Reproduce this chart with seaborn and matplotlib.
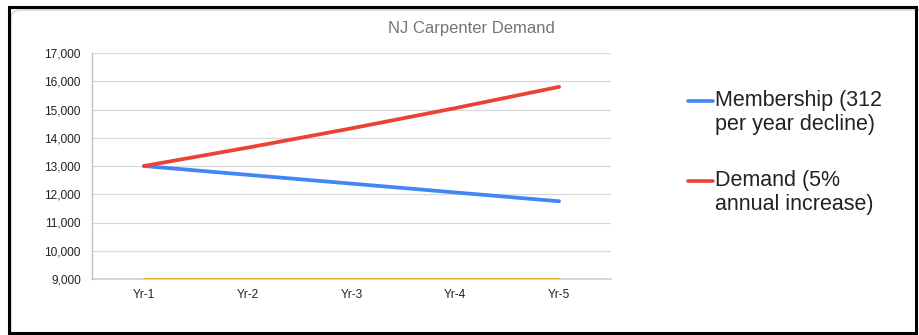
import pandas as pd
import matplotlib
matplotlib.use("Agg")
import matplotlib.pyplot as plt
from matplotlib.patches import FancyBboxPatch, Rectangle
from matplotlib.ticker import FuncFormatter
import seaborn as sns

years = ["Yr-1", "Yr-2", "Yr-3", "Yr-4", "Yr-5"]
membership = [13000, 12688, 12376, 12064, 11752]
demand = [13000, 13650, 14333, 15049, 15802]
third_series = [9000, 9000, 9000, 9000, 9000]

series_names = [
    "Membership (312\nper year decline)",
    "Demand (5%\nannual increase)",
    "Other",
]
series_colors = ["#4285F4", "#EA4335", "#E3AC2A"]

df = pd.DataFrame({
    "Year": years * 3,
    "Value": membership + demand + third_series,
    "Series": [series_names[0]] * 5 + [series_names[1]] * 5 + [series_names[2]] * 5,
})

sns.set_style("white")
plt.rcParams["font.family"] = ["Liberation Sans", "DejaVu Sans"]

fig = plt.figure(figsize=(9.19, 3.35), dpi=100)
ax = fig.add_axes([92 / 919, 1 - 279 / 335, (611 - 92) / 919, (279 - 53) / 335])

sns.lineplot(
    data=df[df["Series"] != "Other"], x="Year", y="Value", hue="Series",
    palette=series_colors[:2], linewidth=2.7, ax=ax, legend=False, sort=False,
)
sns.lineplot(
    data=df[df["Series"] == "Other"], x="Year", y="Value",
    color=series_colors[2], linewidth=1.5, ax=ax, legend=False, sort=False, zorder=5,
)

ax.set_xlim(-0.5, 4.5)
ax.set_ylim(9000, 17000)
ax.set_yticks(range(9000, 17001, 1000))
ax.yaxis.set_major_formatter(FuncFormatter(lambda v, p: f"{int(v):,}"))
ax.grid(axis="y", color="#d9d9d9", linewidth=0.9)
ax.grid(axis="x", visible=False)
ax.set_xlabel("")
ax.set_ylabel("")
for side in ["top", "right"]:
    ax.spines[side].set_visible(False)
ax.spines["left"].set_color("#bdbdbd")
ax.spines["left"].set_linewidth(0.9)
ax.spines["bottom"].set_color("#cfcfcf")
ax.spines["bottom"].set_linewidth(1.2)
ax.tick_params(axis="y", length=0, pad=8, labelsize=8.6, labelcolor="#222222")
ax.tick_params(axis="x", length=0, pad=7, labelsize=8.6, labelcolor="#222222")

fig.text(471 / 919, 1 - 28 / 335, "NJ Carpenter Demand", ha="center", va="center",
         fontsize=12, color="#757575")

handles = ax.lines[:2]
leg = ax.legend(
    handles, series_names[:2], loc="upper left",
    bbox_to_anchor=(688 / 919, 1 - 90 / 335), bbox_transform=fig.transFigure,
    frameon=False, fontsize=15.5, handlelength=1.15, handletextpad=0.1,
    labelspacing=1.62, borderpad=0, borderaxespad=0,
)
for t in leg.get_texts():
    t.set_color("#222222")
# move each legend key up to the first line of its two-line label
for h in leg.get_lines():
    h.set_linewidth(2.6)
    y = h.get_ydata()
    h.set_ydata([v + 8.8 for v in y])

# rounded inner card and black outer frame
card = FancyBboxPatch(
    (11 / 100, (335 - 345) / 100), (930 - 11) / 100, (345 - 10) / 100,
    boxstyle="round,pad=0,rounding_size=0.09", transform=fig.dpi_scale_trans,
    facecolor="none", edgecolor="#c8c8c8", linewidth=0.8,
)
fig.add_artist(card)
frame = Rectangle(
    (9 / 919, 1 - 333 / 335), (916 - 9) / 919, (333 - 7) / 335,
    transform=fig.transFigure, facecolor="none", edgecolor="black", linewidth=2.2,
)
fig.add_artist(frame)

fig.savefig("out.png", dpi=100)
